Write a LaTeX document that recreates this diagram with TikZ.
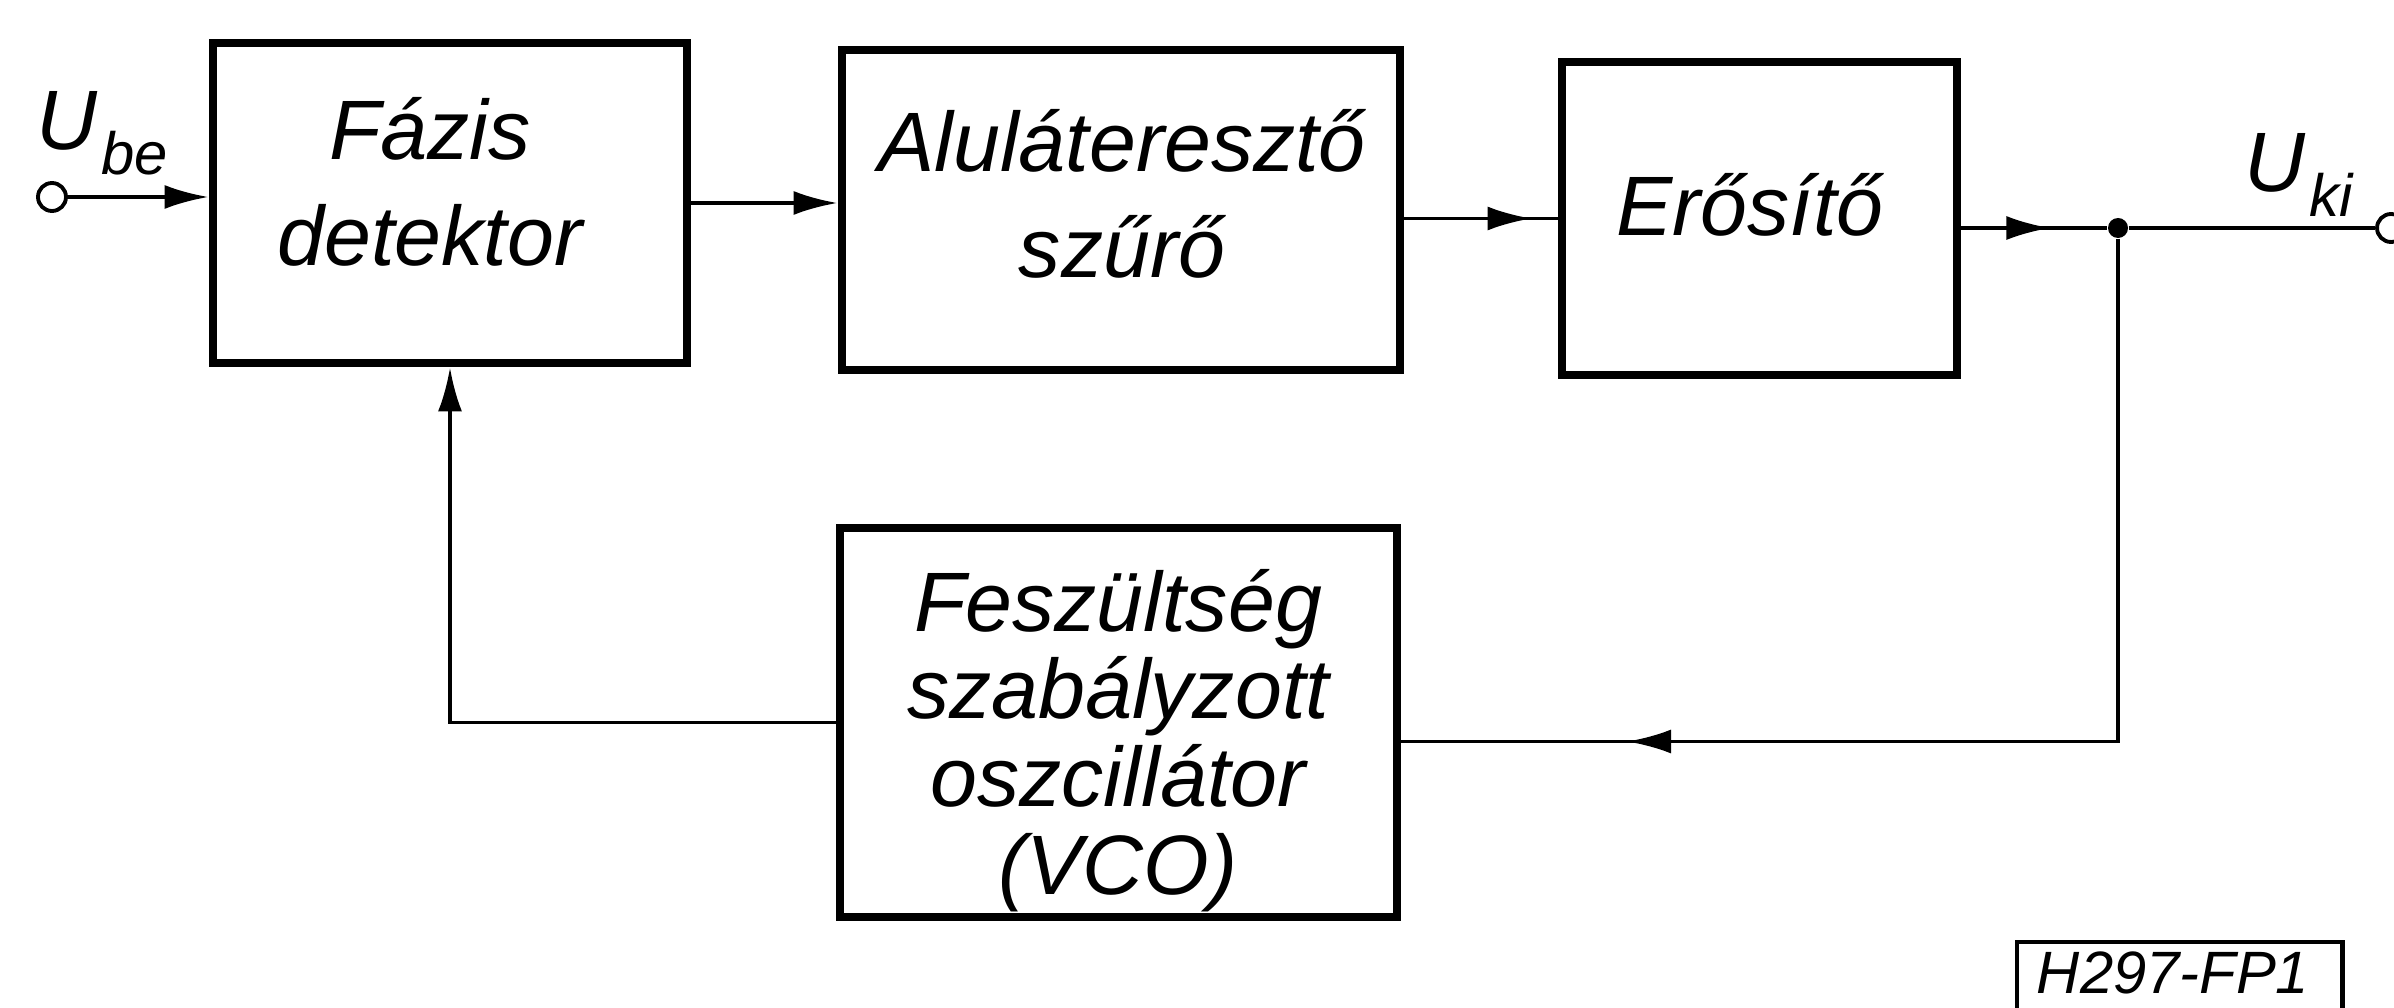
\documentclass[tikz,border=0pt]{standalone}
\usepackage{fontspec}
\setmainfont{Liberation Sans}
\usepackage{tikz}
\usetikzlibrary{
	arrows.meta,
	calc,
	decorations.markings
}
\newcommand{\Ujel}[2]{\textit{U}\kern#2\raisebox{-7pt}{\fontsize{17}{17}\selectfont\itshape #1}}

\begin{document}
\begin{tikzpicture}[
		blokk/.style={draw, line width=2.5pt, inner sep=0pt},
		felirat/.style={align=center, inner sep=0pt, font=\fontsize{24}{30}\selectfont\itshape},
		vonal/.style={line width=1.1pt},
		nyil/.style={vonal, -{Latex[length=4.4mm, width=2.4mm]}},
		kozepnyil/.style={vonal, postaction={decorate}, decoration={markings, mark=at position #1 with {\arrow{Latex[length=4.4mm, width=2.4mm]}}}},
		kapocs/.style={circle, draw, line width=1.1pt, fill=white, minimum size=2.8mm, inner sep=0pt},
		csomopont/.style={circle, fill, minimum size=2mm, inner sep=0pt},
		jel/.style={anchor=base west, inner sep=0pt, font=\fontsize{24}{24}\selectfont}
	] %页面大小按原图固定，1cm 对应原图 100 像素
	\useasboundingbox (0,0) rectangle (23.94,10.07);
	% 方框
	\node[blokk, minimum width=4.74cm, minimum height=3.20cm] (fd) at (4.50,8.04) {};
	\node[blokk, minimum width=5.58cm, minimum height=3.20cm] (al) at (11.21,7.97) {};
	\node[blokk, minimum width=3.95cm, minimum height=3.13cm] (er) at (17.595,7.885) {};
	\node[blokk, minimum width=5.57cm, minimum height=3.89cm] (vco) at (11.185,2.845) {};
	\node[felirat] (fdt) at (4.30,8.25) {Fázis\\detektor};
	\node[felirat] (alt) at (11.22,8.13) {Aluláteresztő\\szűrő};
	\node[felirat] (ert) at (17.50,8.02) {Erősítő};
	\node[felirat, font=\fontsize{24}{25}\selectfont\itshape] (vcot) at (11.18,2.665) {Feszültség\\szabályzott\\oszcillátor\\(VCO)};
	% 连线
	\node[kapocs] (be) at (0.52,8.10) {};
	\node[csomopont] (cs) at (21.18,7.79) {};
	\node[kapocs] (ki) at (23.91,7.79) {};
	\draw[nyil] (be) -- (be -| fd.west);
	\draw[nyil] (fd.east) -- (fd.east -| al.west);
	\draw[kozepnyil=0.83] (er.west -| al.east) -- (er.west);
	\draw[kozepnyil=0.61] (cs -| er.east) -- (cs);
	\draw[vonal] (cs) -- (ki);
	\draw[kozepnyil=0.815] (cs) |- ([yshift=-1.9mm]vco.east);
	\draw[nyil] (vco.west) -| (fd.south);
	% 标注
	\node[jel] (ube) at (0.36,8.57) {\Ujel{be}{1pt}};
	\node[jel] (uki) at (22.44,8.15) {\Ujel{ki}{1pt}};
	\node[anchor=base, inner sep=0pt, font=\fontsize{17}{17}\selectfont\itshape] (rajzszam) at (21.73,0.14) {H297-FP1};
	\draw[line width=1.4pt] (20.17,-0.2) rectangle (23.42,0.65);
\end{tikzpicture}
\end{document}
